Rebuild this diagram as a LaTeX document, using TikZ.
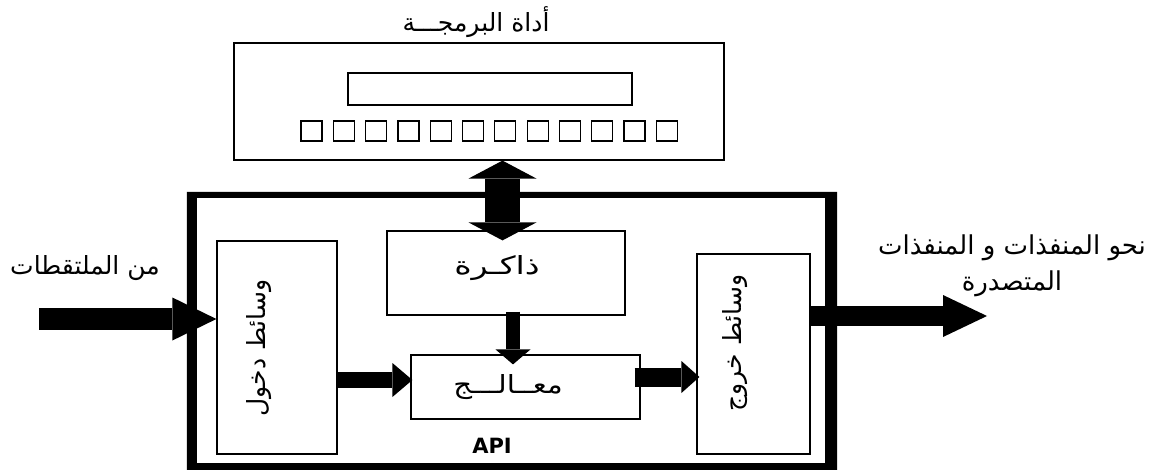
\documentclass[tikz,border=0pt]{standalone}
\usepackage{fontspec}
\usepackage{graphicx}
\usetikzlibrary{arrows.meta}
\TeXXeTstate=1
\newfontfamily\arabicfont[Script=Arabic]{DejaVu Sans}
\newfontfamily\apifont{DejaVu Sans}
\tikzset{
  thinbox/.style={draw, line width=1.2pt, inner sep=0pt, fill=none},
  sqbox/.style={draw, line width=1.2pt, inner sep=0pt, minimum width=21pt, minimum height=20pt},
  artext/.style={font=\arabicfont\fontsize{25}{36}\selectfont, inner sep=0pt},
  blk/.style n args={3}{line width=#1, -{Triangle[width=#2,length=#3,line width=0pt]}},
  dblk/.style n args={3}{line width=#1, {Triangle[width=#2,length=#3,line width=0pt]}-{Triangle[width=#2,length=#3,line width=0pt]}}
}
\begin{document}
\begin{tikzpicture}[x=1pt,y=-1pt]
\useasboundingbox[fill=white] (0,0) rectangle (1156,470);
% programming tool
\node[artext] (toolLbl) at (476,22) {\beginR أداة البرمجـــة\endR};
\node[thinbox, minimum width=490pt, minimum height=117pt] (tool) at (479,101.5) {};
\node[thinbox, minimum width=284pt, minimum height=32pt] (disp) at (490,89) {};
\foreach \i in {0,...,11} \node[sqbox] (sq\i) at ({311.5+32.3*\i},131) {};
% outer box (thick frame, sides of unequal weight)
\node[inner sep=0pt, minimum width=628pt, minimum height=265pt] (outer) at (511,330.5) {};
\fill[even odd rule] ([shift={(-10,-6)}]outer.north west) rectangle ([shift={(12,7)}]outer.south east)
  (outer.north west) rectangle (outer.south east);
% inner blocks
\node[thinbox, minimum width=120pt, minimum height=213pt] (inbox) at (277,347.5) {};
\node[thinbox, minimum width=238pt, minimum height=84pt] (mem) at (506,273) {};
\node[thinbox, minimum width=229pt, minimum height=64pt] (proc) at (525.5,387) {};
\node[thinbox, minimum width=113pt, minimum height=200pt] (outbox) at (753.5,354) {};
% texts
\node[artext, rotate=90] (inTxt) at (259,348) {\beginR وسائط دخول\endR};
\node[artext, rotate=90] (outTxt) at (735,343) {\beginR وسائط خروج\endR};
\node[artext] (memTxt) at (497,268) {\scalebox{1.33}[1]{\beginR ذاكـرة\endR}};
\node[artext] (procTxt) at (508,387) {\scalebox{1.17}[1]{\beginR معــالـــج\endR}};
\node[font=\apifont\bfseries\fontsize{21}{24}\selectfont, inner sep=0pt] (api) at (492,446) {API};
\node[artext] (sensLbl) at (85,268) {\beginR من الملتقطات\endR};
\node[artext, align=center, font=\arabicfont\fontsize{26}{36}\selectfont] (actLbl) at (1012,266) {\beginR نحو المنفذات و المنفذات\endR\\\beginR المتصدرة\endR};
% arrows
\coordinate (inStart) at (39,319);
\coordinate (outEnd) at (987,316);
\draw[blk={22pt}{43pt}{44pt}] (inStart) -- (inStart -| inbox.west);
\draw[blk={20pt}{42pt}{44pt}] (outbox.east |- outEnd) -- (outEnd);
\draw[dblk={35pt}{68pt}{18pt}] ([shift={(23.5,0)}]tool.south) -- ([shift={(-3.5,10)}]mem.north);
\draw[blk={14pt}{35pt}{15pt}] ([shift={(7,-4)}]mem.south) -- ([shift={(-12.5,10)}]proc.north);
\draw[blk={16pt}{34pt}{20pt}] (inbox.east |- 0,380) -- ([xshift=2pt]proc.west |- 0,380);
\draw[blk={19pt}{32pt}{18pt}] ([xshift=-6pt]proc.east |- 0,377) -- ([xshift=3pt]outbox.west |- 0,377);
\end{tikzpicture}
\end{document}
